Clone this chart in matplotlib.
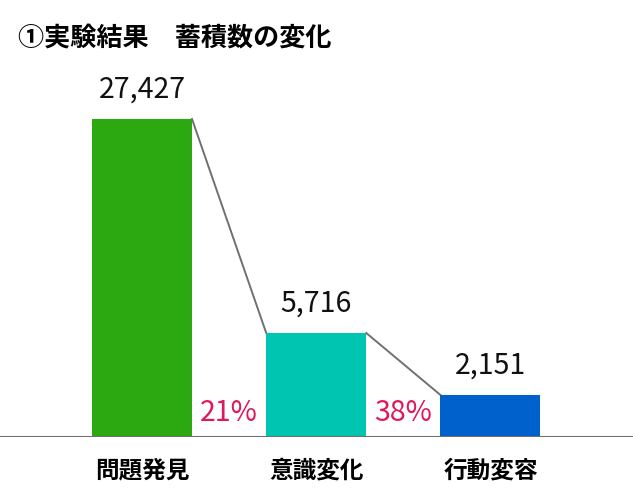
import numpy as np
import matplotlib.pyplot as plt

plt.rcParams['font.family'] = ['Noto Sans CJK JP', 'DejaVu Sans']

# dati
categorie = ['問題発見', '意識変化', '行動変容']
valori = [27427, 5716, 2151]
# altezze visive delle barre (il grafico originale non e' in scala)
altezze = [317.5, 103.5, 41.5]
percentuali = ['21%', '38%']
colori = ['#2ca810', '#00c5b0', '#0060cc']

fig = plt.figure(figsize=(6.33, 5.02), dpi=100)
ax = fig.add_axes([0, 1 - 437.5 / 502, 1, 377.5 / 502])

x = np.arange(len(categorie))
w = 0.574
ax.bar(x, altezze, width=w, color=colori, zorder=2)
ax.set_xlim(-0.815, 2.818)
ax.set_ylim(0, 377.5)

# linee di collegamento tra le barre
for i in range(len(x) - 1):
    ax.plot([x[i] + w / 2, x[i + 1] - w / 2], [altezze[i], altezze[i + 1]],
            color='#707070', lw=1.4, zorder=1)

# etichette dei valori
for xi, h, v in zip(x, altezze, valori):
    ax.annotate(f'{v:,}', (xi, h), xytext=(0, 15), textcoords='offset pixels',
                ha='center', va='bottom', fontsize=20.5, color='#111111')

# percentuali di passaggio
for i, p in enumerate(percentuali):
    xm = (x[i] + w / 2 + x[i + 1] - w / 2) / 2
    ax.text(xm, 24, p, ha='center', va='center', fontsize=20.5, color='#e0185a')

ax.axhline(0, color='#6e6e6e', lw=2.2, zorder=3)

for s in ax.spines.values():
    s.set_visible(False)
ax.set_yticks([])
ax.set_xticks(x)
ax.set_xticklabels(categorie, fontsize=17, fontweight='bold')
ax.tick_params(axis='x', length=0, pad=15)

fig.text(18 / 633, 1 - 38 / 502, '①実験結果　蓄積数の変化', fontsize=18.8,
         fontweight='bold', va='center', ha='left')

fig.savefig('out.png', dpi=100)
